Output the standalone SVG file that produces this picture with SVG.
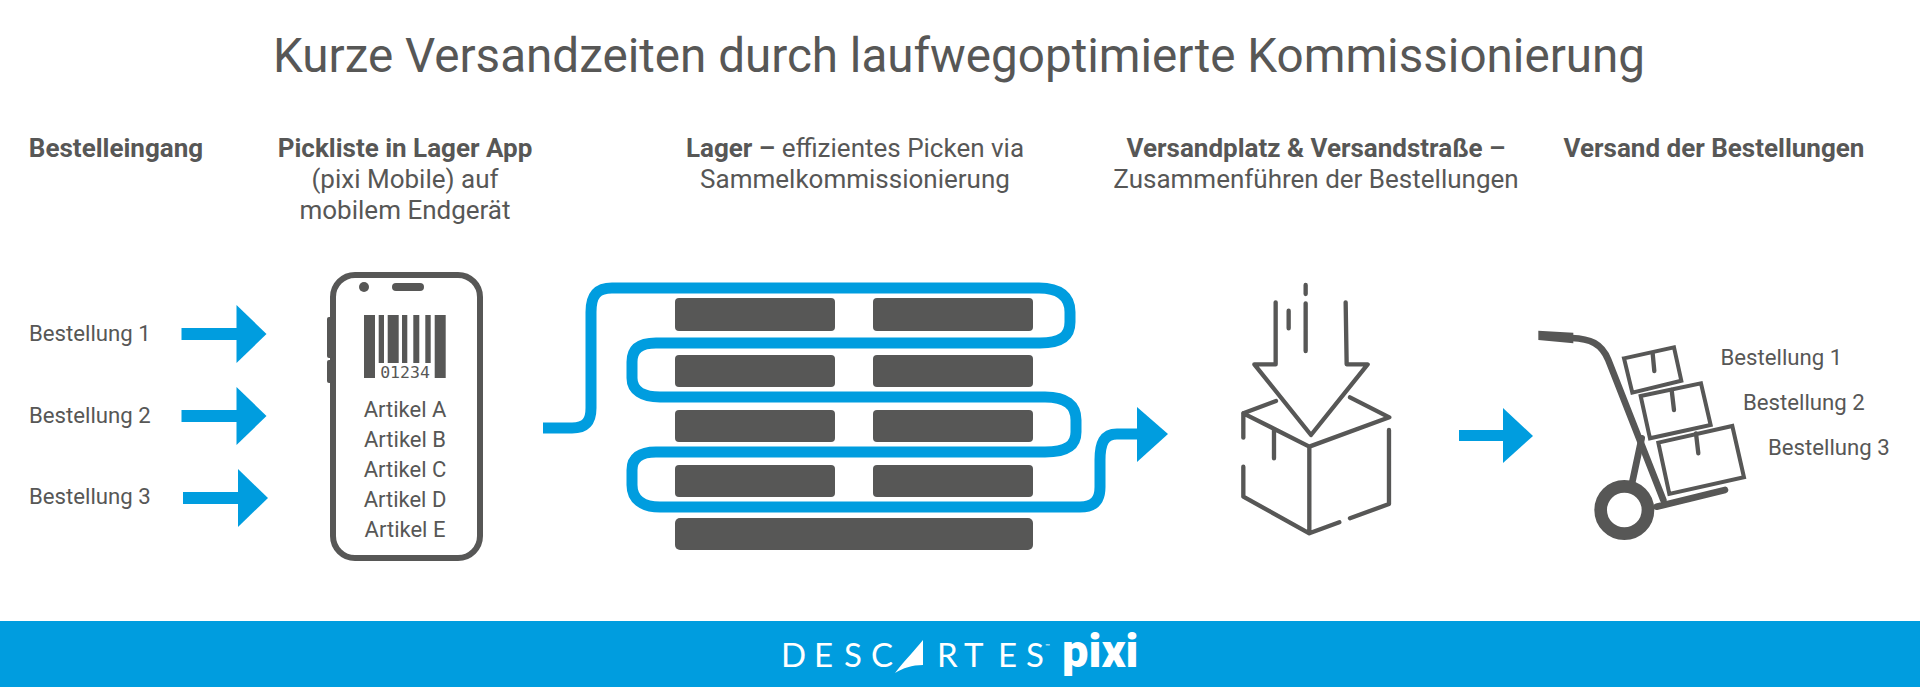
<svg xmlns="http://www.w3.org/2000/svg" width="1920" height="688" viewBox="0 0 1920 688">
<style>
text{font-family:Roboto,"Liberation Sans",sans-serif;fill:#575756}
.t{font-size:47.6px;text-anchor:middle;font-weight:400}
.h{font-size:26px;text-anchor:middle;font-weight:400}
.b{font-weight:700}
.l{font-size:22.2px;font-weight:400}
.a{font-size:22px;text-anchor:middle;font-weight:400}
.blue{fill:#009ddf}
.dark{fill:#575756}
.ln{fill:none;stroke:#575756;stroke-linecap:round;stroke-linejoin:round}
.logo{font-family:Lato,"Open Sans",sans-serif;fill:#fff;font-size:33px;font-weight:400}
</style>
<defs>
<g id="arr"><rect x="0" y="-6" width="56" height="12" class="blue"/><polygon points="55,-29 85,0 55,29" class="blue"/></g>
</defs>
<rect width="1920" height="688" fill="#fff"/>
<text class="t" x="959" y="72">Kurze Versandzeiten durch laufwegoptimierte Kommissionierung</text>
<g id="head-1"><text class="h b" x="116" y="157">Bestelleingang</text></g>
<g id="head-2"><text class="h" x="405" y="157"><tspan class="b">Pickliste in Lager App</tspan><tspan x="405" dy="31">(pixi Mobile) auf</tspan><tspan x="405" dy="31">mobilem Endgerät</tspan></text></g>
<g id="head-3"><text class="h" x="855" y="157"><tspan class="b">Lager – </tspan>effizientes Picken via<tspan x="855" dy="31">Sammelkommissionierung</tspan></text></g>
<g id="head-4"><text class="h" x="1316" y="157"><tspan class="b">Versandplatz &amp; Versandstraße –</tspan><tspan x="1316" dy="31">Zusammenführen der Bestellungen</tspan></text></g>
<g id="head-5"><text class="h b" x="1714" y="157">Versand der Bestellungen</text></g>
<g id="orders-in">
<text class="l" x="29" y="341">Bestellung 1</text>
<text class="l" x="29" y="423">Bestellung 2</text>
<text class="l" x="29" y="504">Bestellung 3</text>
</g>
<g id="phone">
<rect x="333" y="275" width="147" height="283" rx="22" fill="none" stroke="#575756" stroke-width="6"/>
<rect x="327" y="317" width="6" height="41" rx="2" class="dark"/>
<rect x="327" y="360" width="6" height="23" rx="2" class="dark"/>
<circle cx="364" cy="287" r="5" class="dark"/>
<rect x="392" y="283" width="32" height="8" rx="4" class="dark"/>
<rect x="364" y="315" width="11" height="63" class="dark"/>
<rect x="378.7" y="315" width="5.3" height="48" class="dark"/>
<rect x="387.7" y="315" width="11" height="48" class="dark"/>
<rect x="402" y="315" width="5.3" height="48" class="dark"/>
<rect x="413.3" y="315" width="6" height="48" class="dark"/>
<rect x="425.3" y="315" width="5.4" height="48" class="dark"/>
<rect x="434.7" y="315" width="11" height="63" class="dark"/>
<text x="405" y="378" text-anchor="middle" style="font-family:'DejaVu Sans Mono',monospace;font-size:16.5px">01234</text>
<text class="a" x="405" y="417">Artikel A</text>
<text class="a" x="405" y="447">Artikel B</text>
<text class="a" x="405" y="477">Artikel C</text>
<text class="a" x="405" y="507">Artikel D</text>
<text class="a" x="405" y="537">Artikel E</text>
</g>
<g id="warehouse" class="dark">
<rect x="675" y="298" width="160" height="33" rx="4"/><rect x="873" y="298" width="160" height="33" rx="4"/>
<rect x="675" y="355" width="160" height="32" rx="4"/><rect x="873" y="355" width="160" height="32" rx="4"/>
<rect x="675" y="410" width="160" height="32" rx="4"/><rect x="873" y="410" width="160" height="32" rx="4"/>
<rect x="675" y="465" width="160" height="32" rx="4"/><rect x="873" y="465" width="160" height="32" rx="4"/>
<rect x="675" y="518" width="358" height="32" rx="5"/>
</g>
<g id="connectors">
<use href="#arr" x="181.500" y="334"/>
<use href="#arr" x="181.500" y="416"/>
<use href="#arr" x="183" y="498"/>
<rect x="1459" y="430" width="45" height="11" class="blue"/>
<polygon points="1503,408 1533,436 1503,463" class="blue"/>
<path fill="none" stroke="#009ddf" stroke-width="11" d="M543 428H572C587 428 591 420 591 408V312C591 295 597 288 612 288H1039C1060 288 1070 297 1070 312V322C1070 337 1060 343 1040 343H656C640 343 632 349 632 362V378C632 390 642 397 660 397H1045C1066 397 1076 405 1076 420V432C1076 446 1066 452 1045 452H656C640 452 632 458 632 470V485C632 499 642 507 660 507H1080C1094 507 1100 500 1100 487V460C1100 443 1104 434 1117 434H1138"/>
<polygon points="1137,407 1168,434 1137,462" class="blue"/>
</g>
<g id="box" transform="translate(1200 270) scale(.3333)">
<path class="ln" stroke-width="13" d="M227 97V283H163L333 495L503 283H440L437 97"/>
<path class="ln" stroke-width="13" d="M317 45V72M317 100V243M266 122V175"/>
<path class="ln" stroke-width="13" d="M228 393L130 430V503M130 430L328 530L568 442L450 382M222 480V565M130 590V680L328 790L418 757M328 530V790M567 480V702L450 745"/>
</g>
<g id="cart" transform="translate(1520 310) scale(.3333)">
<path d="M55 62L160 68V100L55 90Z" class="dark"/>
<path class="ln" stroke-width="20" d="M155 84C210 86 245 100 265 150L430 570M410 590L615 540"/>
<path class="ln" stroke-width="20" stroke-linecap="butt" d="M365 385L335 525"/>
<circle cx="313" cy="600" r="71" fill="#fff" stroke="#575756" stroke-width="38"/>
<path d="M312 145L462 112L484 212L337 248ZM362 258L543 220L572 345L390 385ZM415 398L637 348L672 502L448 552Z" fill="none" stroke="#575756" stroke-width="12"/>
<path class="ln" stroke-width="13" d="M398 130L403 183M455 240L462 300M528 370L535 430"/>
</g>
<g id="orders-out">
<text class="l" x="1720.500" y="365">Bestellung 1</text>
<text class="l" x="1743" y="410">Bestellung 2</text>
<text class="l" x="1768" y="455">Bestellung 3</text>
</g>
<g id="footer">
<rect x="0" y="621" width="1920" height="66" class="blue"/>
<text class="logo" x="781 814 844 871" y="667">DESC</text>
<path d="M895 673C905 660 915 650 923 640V665C912 665 903 668 895 673Z" fill="#fff"/>
<text class="logo" x="937 964 998 1026" y="667">RTES</text>
<text class="logo" x="1045" y="648" style="font-size:6px">™</text>
<text x="1062" y="667" style="font-family:Roboto,sans-serif;font-size:47px;font-weight:900;fill:#fff">pixi</text>
</g>
</svg>
